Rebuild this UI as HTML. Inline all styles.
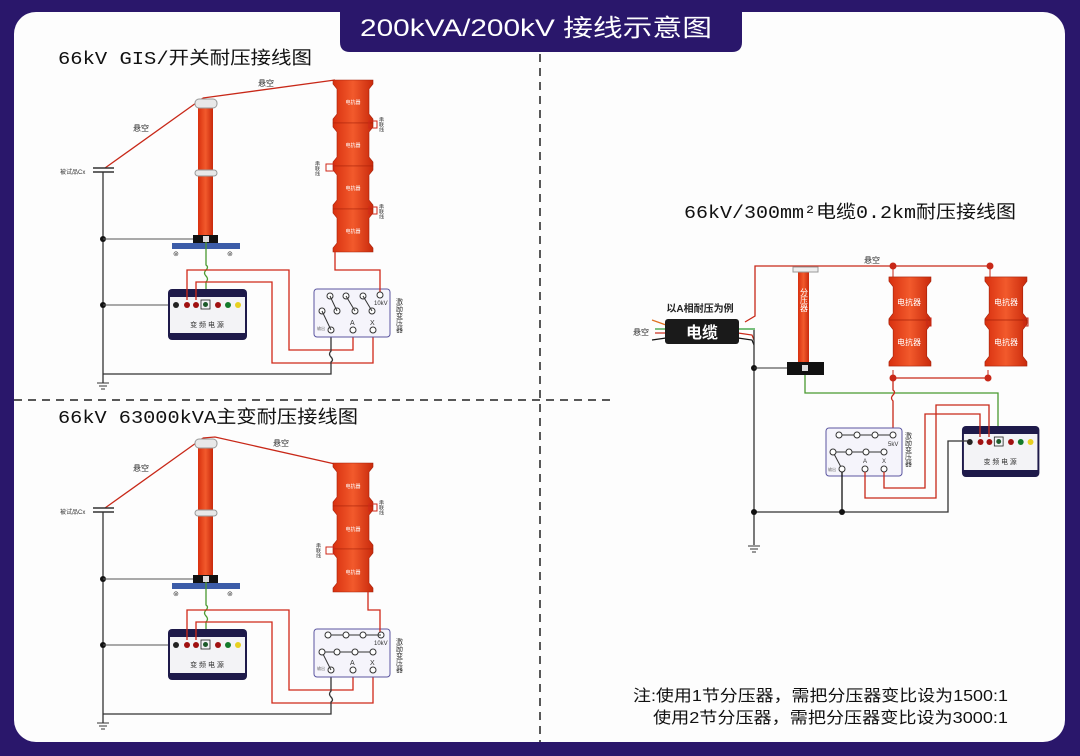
<!DOCTYPE html>
<html><head><meta charset="utf-8"><style>
html,body{margin:0;padding:0;background:#2a176b;}
svg{display:block}
text{font-family:"Liberation Sans","Noto Sans CJK SC",sans-serif}
text.mono{font-family:"Liberation Mono","Noto Sans CJK SC",monospace}
</style></head><body>
<svg width="1080" height="756" viewBox="0 0 1080 756" xmlns="http://www.w3.org/2000/svg">
<defs>
<linearGradient id="rg" x1="0" x2="1" y1="0" y2="0"><stop offset="0" stop-color="#d8300f"/><stop offset="0.5" stop-color="#f25a2c"/><stop offset="1" stop-color="#c92a0c"/></linearGradient>
<g id="rsec"><path d="M0,0 H40 V4 L36,9 V34 L40,39 V43 H0 V39 L4,34 V9 L0,4Z" fill="url(#rg)" stroke="#a52008" stroke-width="0.6"/></g>
<g id="src">
<rect x="0" y="0" width="79" height="51" rx="4" fill="#1e1a4a"/>
<rect x="2" y="8" width="75" height="36" fill="#f3f3f6"/>
<circle cx="8" cy="16" r="3" fill="#222"/><circle cx="19" cy="16" r="3" fill="#a01010"/><circle cx="28" cy="16" r="3" fill="#a01010"/>
<rect x="33" y="11" width="9" height="9" fill="none" stroke="#222" stroke-width="0.8"/><circle cx="37.5" cy="15.5" r="2.5" fill="#1d5a2a"/>
<circle cx="50" cy="16" r="3" fill="#a01010"/><circle cx="60" cy="16" r="3" fill="#127a2a"/><circle cx="70" cy="16" r="3" fill="#e8d020"/>
<text x="39" y="38" font-size="7" text-anchor="middle" fill="#333">变 频 电 源</text>
</g>
<g id="xf">
<rect x="0" y="0" width="76" height="48" rx="3" fill="#f5f4fb" stroke="#5a55a0" stroke-width="1"/>
</g>
</defs>

<rect x="14" y="12" width="1051" height="730" rx="22" fill="#fdfdfd"/>
<path d="M340,0 H742 V42 Q742,52 732,52 H350 Q340,52 340,42Z" fill="#2a176b"/>
<text x="360" y="36" font-size="24" fill="#fff" textLength="352" lengthAdjust="spacingAndGlyphs">200kVA/200kV 接线示意图</text>

<line x1="540" y1="54" x2="540" y2="742" stroke="#222" stroke-width="1.5" stroke-dasharray="8,6"/>
<line x1="14" y1="400" x2="612" y2="400" stroke="#222" stroke-width="1.5" stroke-dasharray="8,6"/>

<text class="mono" x="58" y="64" font-size="18" fill="#111" textLength="254" lengthAdjust="spacingAndGlyphs">66kV GIS/开关耐压接线图</text>
<text class="mono" x="58" y="423" font-size="18" fill="#111" textLength="300" lengthAdjust="spacingAndGlyphs">66kV 63000kVA主变耐压接线图</text>
<text class="mono" x="684" y="218" font-size="18" fill="#111" textLength="332" lengthAdjust="spacingAndGlyphs">66kV/300mm²电缆0.2km耐压接线图</text>

<g id="leftCommon">
<polyline points="105,168 203,98" fill="none" stroke="#c82818" stroke-width="1.3"/>
<text x="133" y="131" font-size="8" fill="#222">悬空</text>
<line x1="93" y1="168" x2="114" y2="168" stroke="#333" stroke-width="1.5"/>
<line x1="93" y1="172" x2="114" y2="172" stroke="#333" stroke-width="1.5"/>
<text x="60" y="174" font-size="6" fill="#333">被试品Cx</text>
<line x1="103" y1="172" x2="103" y2="383" stroke="#333" stroke-width="1.3"/>
<line x1="97" y1="383" x2="109" y2="383" stroke="#333"/><line x1="99" y1="386" x2="107" y2="386" stroke="#333"/><line x1="101" y1="389" x2="105" y2="389" stroke="#333"/>
<circle cx="103" cy="239" r="3" fill="#111"/><line x1="103" y1="239" x2="194" y2="239" stroke="#555"/>
<circle cx="103" cy="305" r="3" fill="#111"/><line x1="103" y1="305" x2="176" y2="305" stroke="#555"/>
<rect x="198" y="104" width="15" height="132" fill="url(#rg)"/>
<rect x="195" y="99" width="22" height="9" rx="4" fill="#e8e8e8" stroke="#999"/>
<rect x="195" y="170" width="22" height="6" rx="3" fill="#e8e8e8" stroke="#999"/>
<rect x="193" y="235" width="25" height="8" fill="#111"/>
<rect x="203" y="236" width="6" height="6" fill="#ddd"/>
<rect x="172" y="243" width="68" height="6" fill="#3c5ca8"/>
<text x="173" y="256" font-size="7" fill="#333">⊚</text><text x="227" y="256" font-size="7" fill="#333">⊚</text>
<path d="M206,242 V265 q3,2 0,5 q-3,3 0,6 q3,3 0,6 V300" fill="none" stroke="#4a9a30" stroke-width="1.3"/>
<use href="#src" x="168" y="289"/>
<polyline points="187,300 187,270 289,270 289,350 353,350 353,333" fill="none" stroke="#d02818" stroke-width="1.3"/>
<polyline points="196,300 196,282 272,282 272,363 373,363 373,333" fill="none" stroke="#d02818" stroke-width="1.3"/>
<path d="M103,374 H331 V362 q3,-2 0,-5 q-3,-3 0,-6 V333" fill="none" stroke="#333" stroke-width="1.3"/>
<use href="#xf" x="314" y="289"/>
<text x="317" y="330" font-size="4" fill="#666">输出</text>
<text x="350" y="325" font-size="7" fill="#333">A</text><text x="370" y="325" font-size="7" fill="#333">X</text>
<circle cx="331" cy="330" r="3" fill="#fff" stroke="#333"/><circle cx="353" cy="330" r="3" fill="#fff" stroke="#333"/><circle cx="373" cy="330" r="3" fill="#fff" stroke="#333"/>
<text x="399" y="298" font-size="7" fill="#333" writing-mode="tb">激励变压器</text>
</g>

<polyline points="203,98 335,80" fill="none" stroke="#c82818" stroke-width="1.3"/>
<text x="258" y="86" font-size="8" fill="#222">悬空</text>
<g>
<use href="#rsec" x="333" y="80"/><use href="#rsec" x="333" y="123"/><use href="#rsec" x="333" y="166"/><use href="#rsec" x="333" y="209"/>
<text x="353" y="104" font-size="5" fill="#fff" text-anchor="middle">电抗器</text>
<text x="353" y="147" font-size="5" fill="#fff" text-anchor="middle">电抗器</text>
<text x="353" y="190" font-size="5" fill="#fff" text-anchor="middle">电抗器</text>
<text x="353" y="233" font-size="5" fill="#fff" text-anchor="middle">电抗器</text>
<rect x="369" y="121" width="8" height="7" fill="none" stroke="#d02818"/>
<rect x="326" y="164" width="8" height="7" fill="none" stroke="#d02818"/>
<rect x="369" y="207" width="8" height="7" fill="none" stroke="#d02818"/>
<text x="381" y="117" font-size="5" fill="#333" writing-mode="tb">串联线</text>
<text x="317" y="161" font-size="5" fill="#333" writing-mode="tb">串联线</text>
<text x="381" y="204" font-size="5" fill="#333" writing-mode="tb">串联线</text>
</g>
<polyline points="335,252 335,270 380,270 380,292" fill="none" stroke="#d02818" stroke-width="1.3"/>
<circle cx="380" cy="295" r="3" fill="#fff" stroke="#333"/>
<text x="374" y="305" font-size="6" fill="#333">10kV</text>
<g stroke="#333" fill="#fff">
<circle cx="330" cy="296" r="3"/><circle cx="337" cy="311" r="3"/><circle cx="346" cy="296" r="3"/><circle cx="355" cy="311" r="3"/><circle cx="363" cy="296" r="3"/><circle cx="372" cy="311" r="3"/><circle cx="322" cy="311" r="3"/>
<line x1="330" y1="296" x2="337" y2="311"/><line x1="346" y1="296" x2="355" y2="311"/><line x1="363" y1="296" x2="372" y2="311"/><line x1="322" y1="311" x2="331" y2="330"/>
</g>

<use href="#leftCommon" y="340"/>
<polyline points="203,438 215,437 335,464" fill="none" stroke="#c82818" stroke-width="1.3"/>
<text x="273" y="446" font-size="8" fill="#222">悬空</text>
<use href="#rsec" x="333" y="463"/><use href="#rsec" x="333" y="506"/><use href="#rsec" x="333" y="549"/>
<text x="353" y="488" font-size="5" fill="#fff" text-anchor="middle">电抗器</text>
<text x="353" y="531" font-size="5" fill="#fff" text-anchor="middle">电抗器</text>
<text x="353" y="574" font-size="5" fill="#fff" text-anchor="middle">电抗器</text>
<rect x="369" y="504" width="8" height="7" fill="none" stroke="#d02818"/>
<rect x="326" y="547" width="8" height="7" fill="none" stroke="#d02818"/>
<text x="381" y="500" font-size="5" fill="#333" writing-mode="tb">串联线</text>
<text x="318" y="543" font-size="5" fill="#333" writing-mode="tb">串联线</text>
<polyline points="368,592 368,610 380,610 380,632" fill="none" stroke="#d02818" stroke-width="1.3"/>
<circle cx="381" cy="635" r="3" fill="#fff" stroke="#333"/>
<text x="374" y="645" font-size="6" fill="#333">10kV</text>
<g stroke="#333" fill="#fff">
<line x1="328" y1="635" x2="381" y2="635"/><line x1="322" y1="652" x2="373" y2="652"/><line x1="322" y1="652" x2="331" y2="670"/>
<circle cx="328" cy="635" r="3"/><circle cx="346" cy="635" r="3"/><circle cx="363" cy="635" r="3"/>
<circle cx="322" cy="652" r="3"/><circle cx="337" cy="652" r="3"/><circle cx="355" cy="652" r="3"/><circle cx="373" cy="652" r="3"/>
</g>

<text x="872" y="263" font-size="8" fill="#222" text-anchor="middle">悬空</text>
<polyline points="745,322 755,316 755,266 990,266" fill="none" stroke="#c82818" stroke-width="1.3"/>
<circle cx="893" cy="266" r="3.5" fill="#c82818"/><circle cx="990" cy="266" r="3.5" fill="#c82818"/>
<line x1="893" y1="266" x2="893" y2="280" stroke="#c82818"/><line x1="990" y1="266" x2="990" y2="280" stroke="#c82818"/>
<text x="700" y="312" font-size="10" fill="#222" text-anchor="middle" font-weight="bold">以A相耐压为例</text>
<text x="633" y="335" font-size="8" fill="#222">悬空</text>
<g stroke-width="1.2" fill="none">
<line x1="652" y1="320" x2="666" y2="325" stroke="#e07020"/><line x1="655" y1="329" x2="666" y2="329" stroke="#2a9a30"/><line x1="655" y1="333" x2="666" y2="333" stroke="#c82818"/><line x1="652" y1="340" x2="666" y2="338" stroke="#111"/>
<polyline points="738,329 755,329" stroke="#2a9a30"/><polyline points="738,333 752,335 754,340" stroke="#c82818"/><polyline points="738,338 752,340 754,345" stroke="#111"/>
</g>
<rect x="665" y="319" width="74" height="25" rx="3" fill="#1a1a1a"/>
<text x="702" y="338" font-size="16" fill="#fff" text-anchor="middle" font-weight="bold">电缆</text>
<line x1="754" y1="330" x2="754" y2="545" stroke="#333" stroke-width="1.3"/>
<line x1="748" y1="546" x2="760" y2="546" stroke="#333"/><line x1="750" y1="549" x2="758" y2="549" stroke="#333"/><line x1="752" y1="552" x2="756" y2="552" stroke="#333"/>
<circle cx="754" cy="368" r="3" fill="#111"/><line x1="754" y1="368" x2="787" y2="368" stroke="#333"/>
<rect x="798" y="270" width="11" height="92" fill="url(#rg)"/>
<text x="804" y="300" font-size="8" fill="#fff" text-anchor="middle" writing-mode="tb">分压器</text>
<rect x="793" y="267" width="25" height="5" fill="#eee" stroke="#999"/>
<rect x="787" y="362" width="37" height="13" fill="#111"/>
<rect x="802" y="365" width="6" height="6" fill="#ddd"/>
<polyline points="805,375 805,393 998,393 998,437" fill="none" stroke="#4a9a30" stroke-width="1.3"/>
<g>
<use href="#rsec" x="889" y="277" transform="matrix(1.05,0,0,1.07,-44.5,-19.4)"/>
<use href="#rsec" x="889" y="320" transform="matrix(1.05,0,0,1.07,-44.5,-22.4)"/>
<use href="#rsec" x="985" y="277" transform="matrix(1.05,0,0,1.07,-49.3,-19.4)"/>
<use href="#rsec" x="985" y="320" transform="matrix(1.05,0,0,1.07,-49.3,-22.4)"/>
<text x="909" y="305" font-size="8" fill="#fff" text-anchor="middle">电抗器</text>
<text x="909" y="345" font-size="8" fill="#fff" text-anchor="middle">电抗器</text>
<text x="1006" y="305" font-size="8" fill="#fff" text-anchor="middle">电抗器</text>
<text x="1006" y="345" font-size="8" fill="#fff" text-anchor="middle">电抗器</text>
<rect x="927" y="318" width="4" height="8" fill="none" stroke="#c82818"/>
<rect x="1024" y="318" width="4" height="8" fill="none" stroke="#c82818"/>
</g>
<line x1="893" y1="370" x2="893" y2="378" stroke="#c82818"/><line x1="988" y1="370" x2="988" y2="378" stroke="#c82818"/>
<line x1="893" y1="378" x2="988" y2="378" stroke="#c82818" stroke-width="1.3"/>
<circle cx="893" cy="378" r="3.5" fill="#c82818"/><circle cx="988" cy="378" r="3.5" fill="#c82818"/>
<path d="M893,378 V390 q3,2 0,5 q-3,3 0,6 V434" fill="none" stroke="#c82818" stroke-width="1.3"/>
<use href="#xf" x="826" y="428"/>
<g stroke="#333" fill="#fff">
<line x1="839" y1="435" x2="893" y2="435"/><line x1="833" y1="452" x2="884" y2="452"/><line x1="833" y1="452" x2="842" y2="469"/>
<circle cx="839" cy="435" r="3"/><circle cx="857" cy="435" r="3"/><circle cx="875" cy="435" r="3"/><circle cx="893" cy="435" r="3"/>
<circle cx="833" cy="452" r="3"/><circle cx="849" cy="452" r="3"/><circle cx="866" cy="452" r="3"/><circle cx="884" cy="452" r="3"/>
<circle cx="842" cy="469" r="3"/><circle cx="865" cy="469" r="3"/><circle cx="884" cy="469" r="3"/>
</g>
<text x="888" y="446" font-size="6" fill="#333">5kV</text>
<text x="863" y="463" font-size="6" fill="#333">A</text><text x="882" y="463" font-size="6" fill="#333">X</text>
<text x="828" y="471" font-size="4" fill="#666">输出</text>
<text x="908" y="432" font-size="7" fill="#333" writing-mode="tb">激励变压器</text>
<use href="#src" x="962" y="426" transform="matrix(0.98,0,0,1,19.2,0)"/>
<polyline points="865,472 865,498 936,498 936,405 989,405 989,437" fill="none" stroke="#c82818" stroke-width="1.3"/>
<polyline points="884,472 884,488 925,488 925,414 980,414 980,437" fill="none" stroke="#c82818" stroke-width="1.3"/>
<polyline points="842,472 842,512" fill="none" stroke="#111" stroke-width="1.3"/>
<polyline points="754,512 948,512 948,441 968,441" fill="none" stroke="#333" stroke-width="1.3"/>
<circle cx="842" cy="512" r="3" fill="#111"/><circle cx="754" cy="512" r="3" fill="#111"/>

<text x="633" y="701" font-size="16" fill="#111" textLength="375" lengthAdjust="spacingAndGlyphs">注:使用1节分压器，需把分压器变比设为1500:1</text>
<text x="653" y="723" font-size="16" fill="#111" textLength="355" lengthAdjust="spacingAndGlyphs">使用2节分压器，需把分压器变比设为3000:1</text>
</svg>
</body></html>
